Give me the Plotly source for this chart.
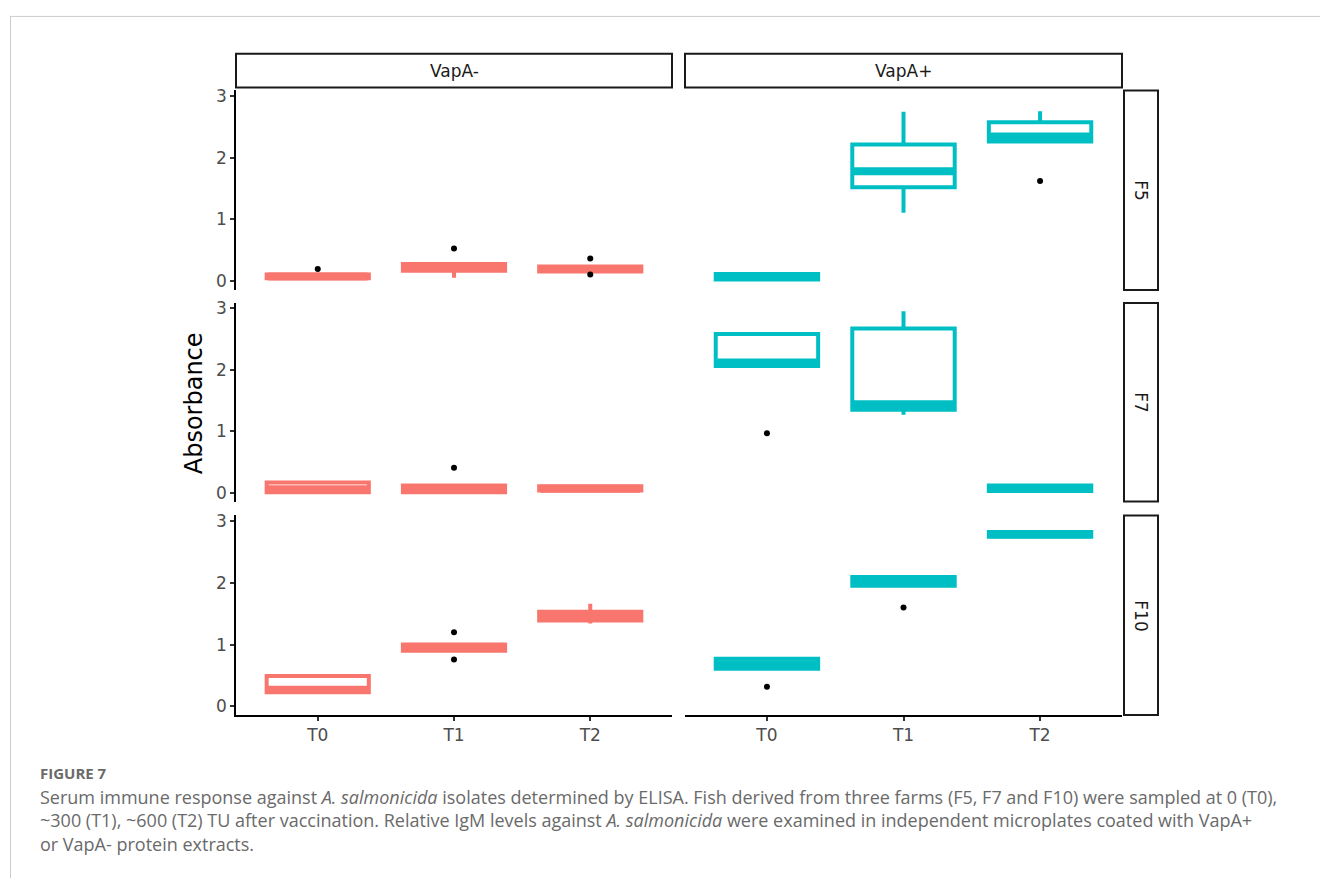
import plotly.graph_objects as go

# ---------------- data ----------------
times = ["T0", "T1", "T2"]
farms = ["F5", "F7", "F10"]
coatings = ["VapA-", "VapA+"]

# VapA- : rows = farms (F5, F7, F10), columns = times (T0, T1, T2)
neg_lower = [[0.05, 0.06, 0.16], [0.01, 0.01, 0.04], [0.23, 0.90, 1.34]]
neg_q1 = [[0.05, 0.17, 0.16], [0.01, 0.01, 0.04], [0.23, 0.90, 1.39]]
neg_median = [[0.08, 0.22, 0.20], [0.06, 0.06, 0.07], [0.27, 0.95, 1.46]]
neg_q3 = [[0.11, 0.28, 0.24], [0.17, 0.12, 0.11], [0.49, 1.00, 1.53]]
neg_upper = [[0.11, 0.29, 0.24], [0.20, 0.12, 0.11], [0.49, 1.00, 1.66]]
neg_outliers = [[[0.20], [0.53], [0.37, 0.11]], [[], [0.41], []], [[], [1.20, 0.76], []]]

# VapA+
pos_lower = [[0.03, 1.11, 2.26], [2.06, 1.27, 0.03], [0.61, 1.95, 2.74]]
pos_q1 = [[0.03, 1.52, 2.26], [2.06, 1.35, 0.03], [0.61, 1.95, 2.74]]
pos_median = [[0.08, 1.78, 2.34], [2.12, 1.44, 0.08], [0.68, 2.02, 2.78]]
pos_q3 = [[0.12, 2.21, 2.57], [2.58, 2.67, 0.12], [0.77, 2.09, 2.82]]
pos_upper = [[0.12, 2.74, 2.75], [2.58, 2.95, 0.12], [0.77, 2.09, 2.82]]
pos_outliers = [[[], [], [1.62]], [[0.97], [], []], [[0.32], [1.60], []]]

colors = {"VapA-": "#F8766D", "VapA+": "#00BFC4"}
stats = {
    "VapA-": (neg_lower, neg_q1, neg_median, neg_q3, neg_upper, neg_outliers),
    "VapA+": (pos_lower, pos_q1, pos_median, pos_q3, pos_upper, pos_outliers),
}

W, H = 1320, 879
col_px = [(236, 672), (685, 1122)]
row_px = [(86, 287), (300, 500), (514, 715)]
BOX_W = 0.75
TICK_FONT = dict(family="DejaVu Sans", size=17, color="#4D4D4D")
STRIP_FONT = dict(family="DejaVu Sans", size=17, color="#1a1a1a")

fig = go.Figure()


def px_x(p):
    return p / W


def px_y(p):
    return 1 - p / H


for r, farm in enumerate(farms):
    for c, coat in enumerate(coatings):
        idx = r * 2 + c + 1
        xa = "x" if idx == 1 else f"x{idx}"
        ya = "y" if idx == 1 else f"y{idx}"
        lo, q1, md, q3, up, outl = stats[coat]
        col = colors[coat]
        xs = [1, 2, 3]
        fig.add_trace(go.Box(
            x=xs, q1=q1[r], median=md[r], q3=q3[r],
            lowerfence=lo[r], upperfence=up[r],
            width=BOX_W, whiskerwidth=0,
            line=dict(color=col, width=4), fillcolor="white",
            boxpoints=False, showlegend=False,
            xaxis=xa, yaxis=ya, hoverinfo="skip",
        ))
        # thick median lines (ggplot fatten)
        for i, t in enumerate(times):
            fig.add_trace(go.Scatter(
                x=[xs[i] - BOX_W / 2 + 0.01, xs[i] + BOX_W / 2 - 0.01],
                y=[md[r][i], md[r][i]], mode="lines",
                line=dict(color=col, width=8), showlegend=False,
                xaxis=xa, yaxis=ya, hoverinfo="skip",
            ))
        # outliers
        ox, oy = [], []
        for i, vals in enumerate(outl[r]):
            for v in vals:
                ox.append(xs[i])
                oy.append(v)
        if ox:
            fig.add_trace(go.Scatter(
                x=ox, y=oy, mode="markers",
                marker=dict(color="black", size=6), showlegend=False,
                xaxis=xa, yaxis=ya, hoverinfo="skip",
            ))

        x0, x1 = col_px[c]
        y0, y1 = row_px[r]
        left = c == 0
        bottom = r == 2
        xkey = "xaxis" if idx == 1 else f"xaxis{idx}"
        ykey = "yaxis" if idx == 1 else f"yaxis{idx}"
        fig.update_layout(**{
            xkey: dict(
                domain=[px_x(x0), px_x(x1)], anchor=ya,
                range=[0.4, 3.6], tickmode="array", tickvals=xs, ticktext=times,
                showticklabels=bottom, ticks="outside" if bottom else "",
                ticklen=4, tickwidth=1.5, tickcolor="#333333",
                showline=bottom, linecolor="black", linewidth=1.5,
                showgrid=False, zeroline=False, tickfont=TICK_FONT,
            ),
            ykey: dict(
                domain=[px_y(y1), px_y(y0)], anchor=xa,
                range=[-0.14, 3.085], tickmode="array", tickvals=[0, 1, 2, 3],
                showticklabels=left, ticks="outside" if left else "",
                ticklen=4, tickwidth=1.5, tickcolor="#333333",
                showline=left, linecolor="black", linewidth=1.5,
                showgrid=False, zeroline=False, tickfont=TICK_FONT,
            ),
        })

shapes = []
annotations = []
# column strips
for c, coat in enumerate(coatings):
    x0, x1 = col_px[c]
    shapes.append(dict(type="rect", xref="paper", yref="paper",
                       x0=px_x(x0), x1=px_x(x1), y0=px_y(83), y1=px_y(49),
                       line=dict(color="#1a1a1a", width=2), fillcolor="white"))
    annotations.append(dict(text=coat, xref="paper", yref="paper",
                            x=px_x((x0 + x1) / 2), y=px_y(66), showarrow=False,
                            font=STRIP_FONT, xanchor="center", yanchor="middle"))
# row strips
for r, farm in enumerate(farms):
    y0, y1 = row_px[r]
    shapes.append(dict(type="rect", xref="paper", yref="paper",
                       x0=px_x(1124), x1=px_x(1158), y0=px_y(y1), y1=px_y(y0),
                       line=dict(color="#1a1a1a", width=2), fillcolor="white"))
    annotations.append(dict(text=farm, xref="paper", yref="paper",
                            x=px_x(1141), y=px_y((y0 + y1) / 2), showarrow=False,
                            textangle=90, font=STRIP_FONT,
                            xanchor="center", yanchor="middle"))
# y axis title
annotations.append(dict(text="Absorbance", xref="paper", yref="paper",
                        x=px_x(194), y=px_y(401), showarrow=False, textangle=-90,
                        font=dict(family="DejaVu Sans", size=24, color="black"),
                        xanchor="center", yanchor="middle"))
# page frame
shapes.append(dict(type="line", xref="paper", yref="paper",
                   x0=px_x(10.5), x1=px_x(10.5), y0=0, y1=px_y(11),
                   line=dict(color="#cccccc", width=1)))
shapes.append(dict(type="line", xref="paper", yref="paper",
                   x0=px_x(10.5), x1=1, y0=px_y(11.5), y1=px_y(11.5),
                   line=dict(color="#cccccc", width=1)))
# caption
cap_font = dict(family="Open Sans", size=18, color="#6a6a6a")
annotations.append(dict(text="<b>FIGURE 7</b>", xref="paper", yref="paper",
                        x=px_x(38), y=px_y(773), showarrow=False,
                        xanchor="left", yanchor="middle",
                        font=dict(family="Open Sans", size=15, color="#6a6a6a")))
cap_lines = [
    "Serum immune response against <i>A. salmonicida</i> isolates determined by ELISA. Fish derived from three farms (F5, F7 and F10) were sampled at 0 (T0),",
    "~300 (T1), ~600 (T2) TU after vaccination. Relative IgM levels against <i>A. salmonicida</i> were examined in independent microplates coated with VapA+",
    "or VapA- protein extracts.",
]
for k, line in enumerate(cap_lines):
    annotations.append(dict(text=line, xref="paper", yref="paper",
                            x=px_x(38), y=px_y(797 + 24 * k), showarrow=False,
                            xanchor="left", yanchor="middle", font=cap_font))

fig.update_layout(
    width=W, height=H, margin=dict(l=0, r=0, t=0, b=0),
    paper_bgcolor="white", plot_bgcolor="white",
    shapes=shapes, annotations=annotations, showlegend=False,
)

fig.write_html(
    "out.html",
    config={"displayModeBar": False},
    post_script="document.body.style.margin='0';document.body.style.padding='0';document.body.style.overflow='hidden';",
)
